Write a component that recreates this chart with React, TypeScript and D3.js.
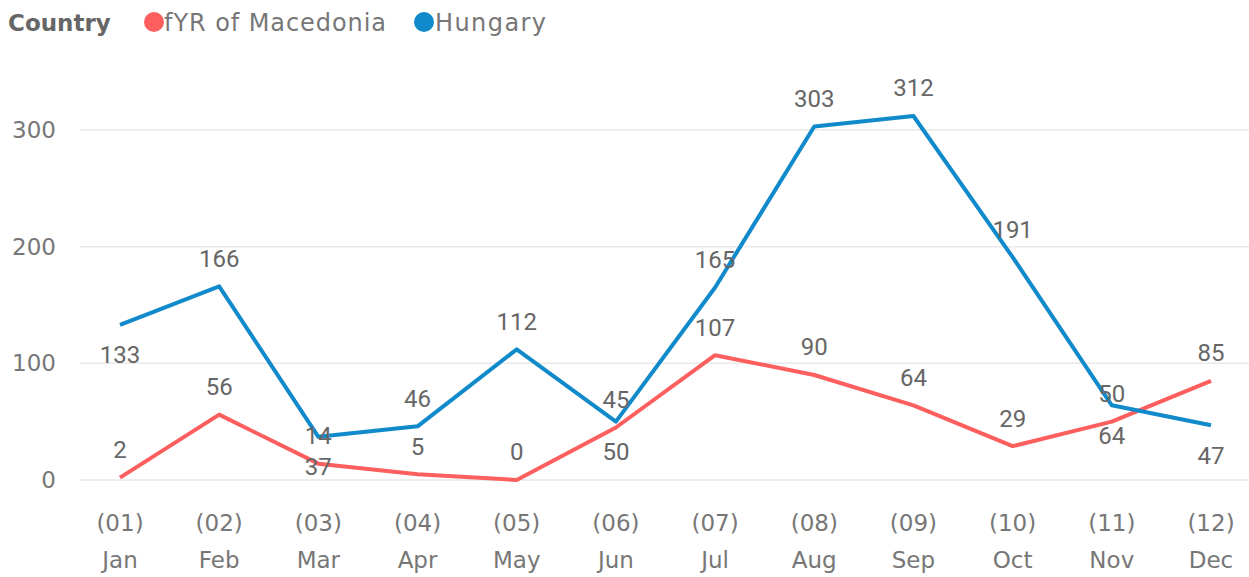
import React, { useEffect, useRef } from 'react';
import * as d3 from 'd3';

const months = ['Jan', 'Feb', 'Mar', 'Apr', 'May', 'Jun', 'Jul', 'Aug', 'Sep', 'Oct', 'Nov', 'Dec'];
const monthCodes = ['(01)', '(02)', '(03)', '(04)', '(05)', '(06)', '(07)', '(08)', '(09)', '(10)', '(11)', '(12)'];
const macedonia = [2, 56, 14, 5, 0, 45, 107, 90, 64, 29, 50, 85];
const hungary = [133, 166, 37, 46, 112, 50, 165, 303, 312, 191, 64, 47];
// months where the Hungary label sits under its point
const hungaryBelow = [0, 2, 5, 10, 11];
const yTicks = [0, 100, 200, 300];

const W = 1249;
const H = 577;

export default function App() {
  const ref = useRef<SVGSVGElement>(null);

  useEffect(() => {
    if (!ref.current) return;
    const svg = d3.select(ref.current);
    svg.selectAll('*').remove();

    const font = '"DejaVu Sans", sans-serif';
    const labelFont = '"Roboto", "DejaVu Sans", sans-serif';
    const grey = '#777';

    const x = d3.scalePoint<string>().domain(months).range([120, 1211]);
    const y = d3.scaleLinear().domain([0, 300]).range([480, 130]);

    // grid
    svg.append('g')
      .selectAll('line')
      .data(yTicks)
      .join('line')
      .attr('x1', 80)
      .attr('x2', W)
      .attr('y1', d => y(d))
      .attr('y2', d => y(d))
      .attr('stroke', '#e9e9e9')
      .attr('stroke-width', 1.5);

    svg.append('g')
      .selectAll('text')
      .data(yTicks)
      .join('text')
      .attr('x', 56)
      .attr('y', d => y(d))
      .attr('dy', '0.35em')
      .attr('text-anchor', 'end')
      .style('font-family', font)
      .style('font-size', '23px')
      .style('fill', grey)
      .text(d => d);

    // x labels
    const xl = svg.append('g');
    months.forEach((m, i) => {
      xl.append('text')
        .attr('x', x(m)!)
        .attr('y', 523)
        .attr('dy', '0.35em')
        .attr('text-anchor', 'middle')
        .style('font-family', font)
        .style('font-size', '23px')
        .style('fill', grey)
        .text(monthCodes[i]);
      xl.append('text')
        .attr('x', x(m)!)
        .attr('y', 560)
        .attr('dy', '0.35em')
        .attr('text-anchor', 'middle')
        .style('font-family', font)
        .style('font-size', '23px')
        .style('fill', grey)
        .text(m);
    });

    const line = d3.line<number>()
      .x((_, i) => x(months[i])!)
      .y(d => y(d));

    const series = [
      { values: macedonia, color: '#FD5E5E', below: [] as number[] },
      { values: hungary, color: '#118ACB', below: hungaryBelow },
    ];

    series.forEach(s => {
      svg.append('path')
        .datum(s.values)
        .attr('d', line)
        .attr('fill', 'none')
        .attr('stroke', s.color)
        .attr('stroke-width', 4)
        .attr('stroke-linejoin', 'round');
    });

    series.forEach(s => {
      svg.append('g')
        .selectAll('text')
        .data(s.values)
        .join('text')
        .attr('x', (_, i) => x(months[i])!)
        .attr('y', (d, i) => y(d) + (s.below.includes(i) ? 30 : -28))
        .attr('dy', '0.35em')
        .attr('text-anchor', 'middle')
        .style('font-family', labelFont)
        .style('font-size', '24px')
        .style('fill', '#666')
        .text(d => d);
    });

    // legend
    const lg = svg.append('g').style('font-family', font).style('font-size', '24px');
    lg.append('text').attr('x', 8).attr('y', 23).attr('dy', '0.35em')
      .style('font-size', '23px')
      .style('font-weight', 'bold').style('fill', '#666').text('Country');
    lg.append('circle').attr('cx', 154).attr('cy', 22).attr('r', 10).attr('fill', '#FD5E5E');
    lg.append('text').attr('x', 164).attr('y', 23).attr('dy', '0.35em')
      .attr('textLength', 222).style('fill', grey).text('fYR of Macedonia');
    lg.append('circle').attr('cx', 424).attr('cy', 22).attr('r', 10).attr('fill', '#118ACB');
    lg.append('text').attr('x', 435).attr('y', 23).attr('dy', '0.35em')
      .attr('textLength', 111).style('fill', grey).text('Hungary');
  }, []);

  return <svg ref={ref} width={W} height={H} style={{ position: 'absolute', left: 0, top: 0 }} />;
}
